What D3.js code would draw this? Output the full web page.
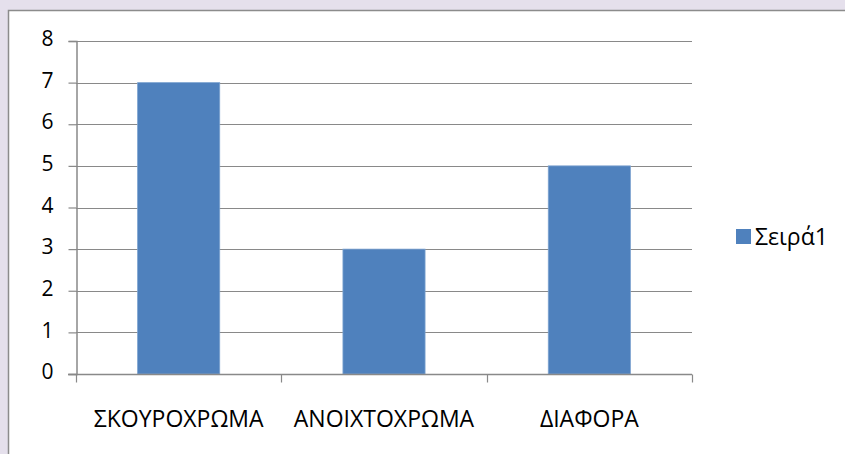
<!DOCTYPE html>
<html>
<head>
<meta charset="utf-8">
<script src="https://cdn.jsdelivr.net/npm/d3@7"></script>
<style>
  html, body { margin: 0; padding: 0; background: #e5e0ec; }
  svg { display: block; }
  text { font-family: "Open Sans", "Noto Sans", sans-serif; fill: #000; }
</style>
</head>
<body>
<svg id="chart" width="845" height="454"></svg>
<script>
// Category names, values and axis ticks
const categories = ["ΣΚΟΥΡΟΧΡΩΜΑ", "ΑΝΟΙΧΤΟΧΡΩΜΑ", "ΔΙΑΦΟΡΑ"];
const values = [7, 3, 5];
const seriesName = "Σειρά1";
const yTicks = [0, 1, 2, 3, 4, 5, 6, 7, 8];

const svg = d3.select("#chart");
const W = 845, H = 454;

// Chart frame
svg.append("rect")
  .attr("x", 8.5).attr("y", 10.5)
  .attr("width", W).attr("height", H)
  .attr("fill", "#fff")
  .attr("stroke", "#8c8c8c").attr("stroke-width", 1.5);

const plot = { left: 76, right: 692, top: 41, bottom: 374 };

const x = d3.scaleBand()
  .domain(categories)
  .range([plot.left, plot.right])
  .paddingInner(0.6).paddingOuter(0.3);

const xBound = d3.scaleBand().domain(categories).range([plot.left, plot.right]);

const y = d3.scaleLinear().domain([0, 8]).range([plot.bottom, plot.top]);

const gridColor = "#898989";

// Horizontal gridlines
svg.append("g").selectAll("line")
  .data(yTicks.filter(d => d > 0))
  .join("line")
  .attr("x1", plot.left).attr("x2", plot.right)
  .attr("y1", d => Math.round(y(d)) + 0.5).attr("y2", d => Math.round(y(d)) + 0.5)
  .attr("stroke", gridColor).attr("stroke-width", 1.2);

// Bars
svg.append("g").selectAll("rect")
  .data(values)
  .join("rect")
  .attr("x", (d, i) => x(categories[i]))
  .attr("y", d => y(d))
  .attr("width", x.bandwidth())
  .attr("height", d => y(0) - y(d))
  .attr("fill", "#4f81bd")
  .attr("stroke", "#7da3d0").attr("stroke-width", 0.8);

// Y axis
const yAxis = svg.append("g")
  .attr("transform", `translate(${plot.left + 0.5},0)`)
  .call(d3.axisLeft(y).tickValues(yTicks).tickSize(8).tickPadding(15).tickFormat(d3.format("d")));
yAxis.attr("font-size", null).attr("font-family", null);
yAxis.select(".domain").attr("stroke", gridColor).attr("stroke-width", 1.5);
yAxis.selectAll(".tick line").attr("stroke", gridColor).attr("stroke-width", 1.2);
yAxis.selectAll(".tick text")
  .attr("fill", "#000")
  .attr("dy", "0.22em")
  .style("font-size", "21px");

// X axis with ticks at category boundaries
const xAxisG = svg.append("g").attr("transform", `translate(0,${Math.round(plot.bottom) + 0.5})`);
xAxisG.append("line")
  .attr("x1", plot.left - 8).attr("x2", plot.right)
  .attr("stroke", gridColor).attr("stroke-width", 1.5);
const bounds = categories.map(c => xBound(c)).concat([plot.right]);
xAxisG.selectAll("line.tk")
  .data(bounds)
  .join("line").attr("class", "tk")
  .attr("x1", d => Math.round(d) + 0.5).attr("x2", d => Math.round(d) + 0.5)
  .attr("y1", 0).attr("y2", 8)
  .attr("stroke", gridColor).attr("stroke-width", 1.2);
xAxisG.selectAll("text")
  .data(categories)
  .join("text")
  .attr("x", d => xBound(d) + xBound.bandwidth() / 2)
  .attr("y", 52)
  .attr("text-anchor", "middle")
  .style("font-size", "23px")
  .text(d => d);

// Legend
const lg = svg.append("g").attr("transform", "translate(736,229)");
lg.append("rect").attr("width", 15).attr("height", 15).attr("fill", "#4f81bd");
lg.append("text").attr("x", 19).attr("y", 15.5).style("font-size", "23px").text(seriesName);
</script>
</body>
</html>
